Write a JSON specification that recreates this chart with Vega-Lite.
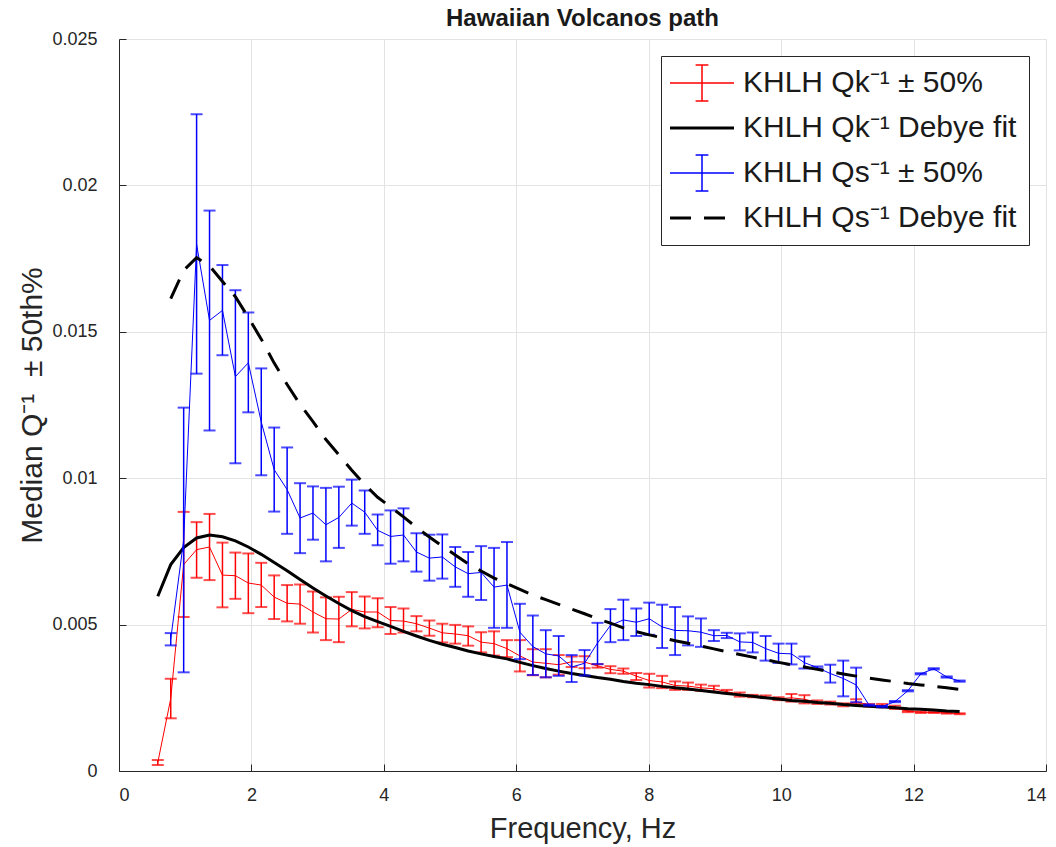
{
  "$schema": "https://vega.github.io/schema/vega-lite/v6.json",
  "width": 927,
  "height": 732,
  "autosize": "none",
  "padding": {"left": 119, "top": 39, "right": 10, "bottom": 76},
  "background": "white",
  "title": {"text": "Hawaiian Volcanos path", "font": "Liberation Sans", "fontSize": 24, "fontWeight": "bold", "color": "#1a1a1a", "offset": -1, "anchor": "middle"},
  "config": {
    "view": {"stroke": null},
    "axis": {"domainColor": "#262626", "tickColor": "#262626", "labelColor": "#262626", "titleColor": "#262626", "gridColor": "#e3e3e3", "labelFont": "Liberation Sans", "titleFont": "Liberation Sans", "labelFontSize": 18, "titleFontSize": 29, "titleFontWeight": "normal", "tickSize": -7, "domainWidth": 1}
  },
  "datasets": {
    "err": [
      {"s":"qk","f":0.5859,"q":0.00029,"lo":0.000205,"hi":0.000376},
      {"s":"qk","f":0.7813,"q":0.00247,"lo":0.0018,"hi":0.00315},
      {"s":"qk","f":0.9766,"q":0.00705,"lo":0.00526,"hi":0.00885},
      {"s":"qk","f":1.1719,"q":0.00756,"lo":0.0066,"hi":0.0085},
      {"s":"qk","f":1.3672,"q":0.00765,"lo":0.00652,"hi":0.00878},
      {"s":"qk","f":1.5625,"q":0.00669,"lo":0.00559,"hi":0.0078},
      {"s":"qk","f":1.7578,"q":0.00667,"lo":0.00588,"hi":0.00746},
      {"s":"qk","f":1.9531,"q":0.00642,"lo":0.00539,"hi":0.00743},
      {"s":"qk","f":2.1484,"q":0.00635,"lo":0.0056,"hi":0.00711},
      {"s":"qk","f":2.3438,"q":0.00594,"lo":0.00519,"hi":0.00668},
      {"s":"qk","f":2.5391,"q":0.00573,"lo":0.00511,"hi":0.00635},
      {"s":"qk","f":2.7344,"q":0.0057,"lo":0.00503,"hi":0.00637},
      {"s":"qk","f":2.9297,"q":0.00543,"lo":0.00473,"hi":0.00613},
      {"s":"qk","f":3.125,"q":0.0052,"lo":0.00447,"hi":0.00593},
      {"s":"qk","f":3.3203,"q":0.00519,"lo":0.0044,"hi":0.00595},
      {"s":"qk","f":3.5156,"q":0.00552,"lo":0.00494,"hi":0.00611},
      {"s":"qk","f":3.7109,"q":0.00543,"lo":0.00487,"hi":0.00596},
      {"s":"qk","f":3.9063,"q":0.00543,"lo":0.00491,"hi":0.0059},
      {"s":"qk","f":4.1016,"q":0.00514,"lo":0.00468,"hi":0.0056},
      {"s":"qk","f":4.2969,"q":0.00512,"lo":0.00473,"hi":0.00555},
      {"s":"qk","f":4.4922,"q":0.00503,"lo":0.00477,"hi":0.00529},
      {"s":"qk","f":4.6875,"q":0.00488,"lo":0.00462,"hi":0.00514},
      {"s":"qk","f":4.8828,"q":0.00472,"lo":0.00439,"hi":0.00503},
      {"s":"qk","f":5.0781,"q":0.00468,"lo":0.00435,"hi":0.00499},
      {"s":"qk","f":5.2734,"q":0.00462,"lo":0.00428,"hi":0.00494},
      {"s":"qk","f":5.4688,"q":0.0044,"lo":0.00405,"hi":0.00474},
      {"s":"qk","f":5.6641,"q":0.00435,"lo":0.00394,"hi":0.00477},
      {"s":"qk","f":5.8594,"q":0.00418,"lo":0.00389,"hi":0.00447},
      {"s":"qk","f":6.0547,"q":0.00393,"lo":0.0034,"hi":0.00447},
      {"s":"qk","f":6.25,"q":0.00372,"lo":0.00327,"hi":0.00416},
      {"s":"qk","f":6.4453,"q":0.00368,"lo":0.0032,"hi":0.00416},
      {"s":"qk","f":6.6406,"q":0.00363,"lo":0.00329,"hi":0.00396},
      {"s":"qk","f":6.8359,"q":0.00373,"lo":0.00355,"hi":0.00391},
      {"s":"qk","f":7.0313,"q":0.00372,"lo":0.00351,"hi":0.00392},
      {"s":"qk","f":7.2266,"q":0.00359,"lo":0.00353,"hi":0.00365},
      {"s":"qk","f":7.4219,"q":0.00347,"lo":0.00334,"hi":0.00358},
      {"s":"qk","f":7.6172,"q":0.00341,"lo":0.00332,"hi":0.0035},
      {"s":"qk","f":7.8125,"q":0.00324,"lo":0.00311,"hi":0.00335},
      {"s":"qk","f":8.0078,"q":0.00309,"lo":0.00285,"hi":0.00332},
      {"s":"qk","f":8.2031,"q":0.00304,"lo":0.00283,"hi":0.00325},
      {"s":"qk","f":8.3984,"q":0.00292,"lo":0.00277,"hi":0.00306},
      {"s":"qk","f":8.5938,"q":0.0029,"lo":0.00277,"hi":0.00302},
      {"s":"qk","f":8.7891,"q":0.00284,"lo":0.00274,"hi":0.00295},
      {"s":"qk","f":8.9844,"q":0.00281,"lo":0.00271,"hi":0.00291},
      {"s":"qk","f":9.1797,"q":0.00271,"lo":0.00266,"hi":0.00277},
      {"s":"qk","f":9.375,"q":0.00261,"lo":0.00254,"hi":0.00268},
      {"s":"qk","f":9.5703,"q":0.00256,"lo":0.00252,"hi":0.0026},
      {"s":"qk","f":9.7656,"q":0.00253,"lo":0.00249,"hi":0.00258},
      {"s":"qk","f":9.9609,"q":0.00247,"lo":0.00242,"hi":0.00252},
      {"s":"qk","f":10.1563,"q":0.0025,"lo":0.00237,"hi":0.00263},
      {"s":"qk","f":10.3516,"q":0.00245,"lo":0.00231,"hi":0.00259},
      {"s":"qk","f":10.5469,"q":0.00235,"lo":0.00229,"hi":0.00241},
      {"s":"qk","f":10.7422,"q":0.00232,"lo":0.00227,"hi":0.00237},
      {"s":"qk","f":10.9375,"q":0.00226,"lo":0.00221,"hi":0.00231},
      {"s":"qk","f":11.1328,"q":0.00237,"lo":0.00229,"hi":0.00245},
      {"s":"qk","f":11.3281,"q":0.00225,"lo":0.0022,"hi":0.00229},
      {"s":"qk","f":11.5234,"q":0.00223,"lo":0.00218,"hi":0.00229},
      {"s":"qk","f":11.7188,"q":0.00218,"lo":0.00212,"hi":0.00223},
      {"s":"qk","f":11.9141,"q":0.00204,"lo":0.00201,"hi":0.00206},
      {"s":"qk","f":12.1094,"q":0.00201,"lo":0.00198,"hi":0.00203},
      {"s":"qk","f":12.3047,"q":0.002,"lo":0.00198,"hi":0.00202},
      {"s":"qk","f":12.5,"q":0.00198,"lo":0.00196,"hi":0.002},
      {"s":"qk","f":12.6953,"q":0.00196,"lo":0.00194,"hi":0.00197},
      {"s":"qs","f":0.7813,"q":0.0045,"lo":0.00429,"hi":0.00471},
      {"s":"qs","f":0.9766,"q":0.00789,"lo":0.00337,"hi":0.01241},
      {"s":"qs","f":1.1719,"q":0.01799,"lo":0.01357,"hi":0.02243},
      {"s":"qs","f":1.3672,"q":0.01539,"lo":0.01163,"hi":0.01914},
      {"s":"qs","f":1.5625,"q":0.01573,"lo":0.0142,"hi":0.01728},
      {"s":"qs","f":1.7578,"q":0.01347,"lo":0.01051,"hi":0.01642},
      {"s":"qs","f":1.9531,"q":0.01394,"lo":0.01225,"hi":0.01566},
      {"s":"qs","f":2.1484,"q":0.01192,"lo":0.0101,"hi":0.01375},
      {"s":"qs","f":2.3438,"q":0.01029,"lo":0.00886,"hi":0.01173},
      {"s":"qs","f":2.5391,"q":0.00961,"lo":0.0081,"hi":0.01105},
      {"s":"qs","f":2.7344,"q":0.00864,"lo":0.00744,"hi":0.00983},
      {"s":"qs","f":2.9297,"q":0.00881,"lo":0.0079,"hi":0.00972},
      {"s":"qs","f":3.125,"q":0.00841,"lo":0.00716,"hi":0.00967},
      {"s":"qs","f":3.3203,"q":0.00866,"lo":0.00762,"hi":0.00971},
      {"s":"qs","f":3.5156,"q":0.00915,"lo":0.00838,"hi":0.00995},
      {"s":"qs","f":3.7109,"q":0.00884,"lo":0.0081,"hi":0.00958},
      {"s":"qs","f":3.9063,"q":0.00822,"lo":0.00771,"hi":0.00876},
      {"s":"qs","f":4.1016,"q":0.00801,"lo":0.00708,"hi":0.0089},
      {"s":"qs","f":4.2969,"q":0.00806,"lo":0.00716,"hi":0.00897},
      {"s":"qs","f":4.4922,"q":0.00748,"lo":0.00681,"hi":0.00812},
      {"s":"qs","f":4.6875,"q":0.00727,"lo":0.0065,"hi":0.00807},
      {"s":"qs","f":4.8828,"q":0.00731,"lo":0.00657,"hi":0.00808},
      {"s":"qs","f":5.0781,"q":0.00697,"lo":0.00629,"hi":0.00765},
      {"s":"qs","f":5.2734,"q":0.00674,"lo":0.00595,"hi":0.00748},
      {"s":"qs","f":5.4688,"q":0.00678,"lo":0.00584,"hi":0.00768},
      {"s":"qs","f":5.6641,"q":0.00628,"lo":0.00489,"hi":0.00762},
      {"s":"qs","f":5.8594,"q":0.00635,"lo":0.00489,"hi":0.00782},
      {"s":"qs","f":6.0547,"q":0.00474,"lo":0.00382,"hi":0.00571},
      {"s":"qs","f":6.25,"q":0.00425,"lo":0.00328,"hi":0.00531},
      {"s":"qs","f":6.4453,"q":0.004,"lo":0.0032,"hi":0.00481},
      {"s":"qs","f":6.6406,"q":0.00393,"lo":0.00325,"hi":0.00461},
      {"s":"qs","f":6.8359,"q":0.00355,"lo":0.00304,"hi":0.00396},
      {"s":"qs","f":7.0313,"q":0.00368,"lo":0.00326,"hi":0.00413},
      {"s":"qs","f":7.2266,"q":0.00437,"lo":0.00365,"hi":0.00506},
      {"s":"qs","f":7.4219,"q":0.00497,"lo":0.0044,"hi":0.00553},
      {"s":"qs","f":7.6172,"q":0.00516,"lo":0.00447,"hi":0.00585},
      {"s":"qs","f":7.8125,"q":0.00508,"lo":0.00461,"hi":0.00555},
      {"s":"qs","f":8.0078,"q":0.0052,"lo":0.00465,"hi":0.00575},
      {"s":"qs","f":8.2031,"q":0.00492,"lo":0.0042,"hi":0.00568},
      {"s":"qs","f":8.3984,"q":0.0048,"lo":0.00396,"hi":0.0056},
      {"s":"qs","f":8.5938,"q":0.00479,"lo":0.00429,"hi":0.00528},
      {"s":"qs","f":8.7891,"q":0.00474,"lo":0.00424,"hi":0.00521},
      {"s":"qs","f":8.9844,"q":0.00462,"lo":0.00444,"hi":0.00481},
      {"s":"qs","f":9.1797,"q":0.00463,"lo":0.00454,"hi":0.00472},
      {"s":"qs","f":9.375,"q":0.00441,"lo":0.00412,"hi":0.0047},
      {"s":"qs","f":9.5703,"q":0.00439,"lo":0.00405,"hi":0.00473},
      {"s":"qs","f":9.7656,"q":0.00418,"lo":0.00377,"hi":0.00461},
      {"s":"qs","f":9.9609,"q":0.00402,"lo":0.00369,"hi":0.00435},
      {"s":"qs","f":10.1563,"q":0.004,"lo":0.00364,"hi":0.00435},
      {"s":"qs","f":10.3516,"q":0.0037,"lo":0.0035,"hi":0.00391},
      {"s":"qs","f":10.5469,"q":0.00353,"lo":0.0035,"hi":0.00357},
      {"s":"qs","f":10.7422,"q":0.00333,"lo":0.00302,"hi":0.00363},
      {"s":"qs","f":10.9375,"q":0.00316,"lo":0.00255,"hi":0.00377},
      {"s":"qs","f":11.1328,"q":0.00294,"lo":0.00235,"hi":0.00353},
      {"s":"qs","f":11.3281,"q":0.00225,"lo":0.00223,"hi":0.00227},
      {"s":"qs","f":11.5234,"q":0.0022,"lo":0.00218,"hi":0.00222},
      {"s":"qs","f":11.7188,"q":0.00237,"lo":0.00235,"hi":0.00239},
      {"s":"qs","f":11.9141,"q":0.00274,"lo":0.00272,"hi":0.00276},
      {"s":"qs","f":12.1094,"q":0.00332,"lo":0.0033,"hi":0.00334},
      {"s":"qs","f":12.3047,"q":0.00349,"lo":0.00347,"hi":0.00351},
      {"s":"qs","f":12.5,"q":0.00321,"lo":0.00319,"hi":0.00323},
      {"s":"qs","f":12.6953,"q":0.00307,"lo":0.00305,"hi":0.00309}
    ],
    "fit": [
      {"s":"qkfit","f":0.5859,"q":0.00597},{"s":"qkfit","f":0.7813,"q":0.00705},{"s":"qkfit","f":0.9766,"q":0.00763},{"s":"qkfit","f":1.1719,"q":0.00796},
      {"s":"qkfit","f":1.3672,"q":0.00806},{"s":"qkfit","f":1.5625,"q":0.008},{"s":"qkfit","f":1.7578,"q":0.00786},{"s":"qkfit","f":1.9531,"q":0.00765},
      {"s":"qkfit","f":2.1484,"q":0.0074},{"s":"qkfit","f":2.3438,"q":0.00712},{"s":"qkfit","f":2.5391,"q":0.00684},{"s":"qkfit","f":2.7344,"q":0.00654},
      {"s":"qkfit","f":2.9297,"q":0.00625},{"s":"qkfit","f":3.125,"q":0.00598},{"s":"qkfit","f":3.3203,"q":0.00572},{"s":"qkfit","f":3.5156,"q":0.00548},
      {"s":"qkfit","f":3.7109,"q":0.00527},{"s":"qkfit","f":3.9063,"q":0.0051},{"s":"qkfit","f":4.1016,"q":0.00494},{"s":"qkfit","f":4.2969,"q":0.00477},
      {"s":"qkfit","f":4.4922,"q":0.00461},{"s":"qkfit","f":4.6875,"q":0.00446},{"s":"qkfit","f":4.8828,"q":0.00433},{"s":"qkfit","f":5.0781,"q":0.00422},
      {"s":"qkfit","f":5.2734,"q":0.0041},{"s":"qkfit","f":5.4688,"q":0.004},{"s":"qkfit","f":5.6641,"q":0.00391},{"s":"qkfit","f":5.8594,"q":0.00383},
      {"s":"qkfit","f":6.0547,"q":0.00371},{"s":"qkfit","f":6.25,"q":0.0036},{"s":"qkfit","f":6.4453,"q":0.0035},{"s":"qkfit","f":6.6406,"q":0.00341},
      {"s":"qkfit","f":6.8359,"q":0.00333},{"s":"qkfit","f":7.0313,"q":0.00326},{"s":"qkfit","f":7.2266,"q":0.00319},{"s":"qkfit","f":7.4219,"q":0.00313},
      {"s":"qkfit","f":7.6172,"q":0.00306},{"s":"qkfit","f":7.8125,"q":0.003},{"s":"qkfit","f":8.0078,"q":0.00295},{"s":"qkfit","f":8.2031,"q":0.00289},
      {"s":"qkfit","f":8.3984,"q":0.00284},{"s":"qkfit","f":8.5938,"q":0.0028},{"s":"qkfit","f":8.7891,"q":0.00275},{"s":"qkfit","f":8.9844,"q":0.0027},
      {"s":"qkfit","f":9.1797,"q":0.00265},{"s":"qkfit","f":9.375,"q":0.0026},{"s":"qkfit","f":9.5703,"q":0.00255},{"s":"qkfit","f":9.7656,"q":0.0025},
      {"s":"qkfit","f":9.9609,"q":0.00246},{"s":"qkfit","f":10.1563,"q":0.00241},{"s":"qkfit","f":10.3516,"q":0.00238},{"s":"qkfit","f":10.5469,"q":0.00234},
      {"s":"qkfit","f":10.7422,"q":0.00231},{"s":"qkfit","f":10.9375,"q":0.00227},{"s":"qkfit","f":11.1328,"q":0.00224},{"s":"qkfit","f":11.3281,"q":0.00221},
      {"s":"qkfit","f":11.5234,"q":0.00219},{"s":"qkfit","f":11.7188,"q":0.00216},{"s":"qkfit","f":11.9141,"q":0.00213},{"s":"qkfit","f":12.1094,"q":0.00211},
      {"s":"qkfit","f":12.3047,"q":0.00208},{"s":"qkfit","f":12.5,"q":0.00205},{"s":"qkfit","f":12.6953,"q":0.00203},
      {"s":"qsfit","f":0.7813,"q":0.01613},{"s":"qsfit","f":0.9766,"q":0.0171},{"s":"qsfit","f":1.1719,"q":0.01753},{"s":"qsfit","f":1.3672,"q":0.01725},
      {"s":"qsfit","f":1.5625,"q":0.01672},{"s":"qsfit","f":1.7578,"q":0.0162},{"s":"qsfit","f":1.9531,"q":0.01549},{"s":"qsfit","f":2.1484,"q":0.01475},
      {"s":"qsfit","f":2.3438,"q":0.01393},{"s":"qsfit","f":2.5391,"q":0.0132},{"s":"qsfit","f":2.7344,"q":0.01252},{"s":"qsfit","f":2.9297,"q":0.01193},
      {"s":"qsfit","f":3.125,"q":0.01132},{"s":"qsfit","f":3.3203,"q":0.0108},{"s":"qsfit","f":3.5156,"q":0.01027},{"s":"qsfit","f":3.7109,"q":0.00978},
      {"s":"qsfit","f":3.9063,"q":0.00935},{"s":"qsfit","f":4.1016,"q":0.00902},{"s":"qsfit","f":4.2969,"q":0.00868},{"s":"qsfit","f":4.4922,"q":0.00832},
      {"s":"qsfit","f":4.6875,"q":0.00799},{"s":"qsfit","f":4.8828,"q":0.00768},{"s":"qsfit","f":5.0781,"q":0.00738},{"s":"qsfit","f":5.2734,"q":0.00708},
      {"s":"qsfit","f":5.4688,"q":0.00683},{"s":"qsfit","f":5.6641,"q":0.00659},{"s":"qsfit","f":5.8594,"q":0.0064},{"s":"qsfit","f":6.0547,"q":0.0062},
      {"s":"qsfit","f":6.25,"q":0.00601},{"s":"qsfit","f":6.4453,"q":0.00585},{"s":"qsfit","f":6.6406,"q":0.00569},{"s":"qsfit","f":6.8359,"q":0.00553},
      {"s":"qsfit","f":7.0313,"q":0.00537},{"s":"qsfit","f":7.2266,"q":0.0052},{"s":"qsfit","f":7.4219,"q":0.00505},{"s":"qsfit","f":7.6172,"q":0.00489},
      {"s":"qsfit","f":7.8125,"q":0.00476},{"s":"qsfit","f":8.0078,"q":0.00465},{"s":"qsfit","f":8.2031,"q":0.00455},{"s":"qsfit","f":8.3984,"q":0.00445},
      {"s":"qsfit","f":8.5938,"q":0.00436},{"s":"qsfit","f":8.7891,"q":0.00427},{"s":"qsfit","f":8.9844,"q":0.00417},{"s":"qsfit","f":9.1797,"q":0.00407},
      {"s":"qsfit","f":9.375,"q":0.00398},{"s":"qsfit","f":9.5703,"q":0.00389},{"s":"qsfit","f":9.7656,"q":0.0038},{"s":"qsfit","f":9.9609,"q":0.00371},
      {"s":"qsfit","f":10.1563,"q":0.00363},{"s":"qsfit","f":10.3516,"q":0.00355},{"s":"qsfit","f":10.5469,"q":0.00347},{"s":"qsfit","f":10.7422,"q":0.00339},
      {"s":"qsfit","f":10.9375,"q":0.00331},{"s":"qsfit","f":11.1328,"q":0.00324},{"s":"qsfit","f":11.3281,"q":0.00317},{"s":"qsfit","f":11.5234,"q":0.00311},
      {"s":"qsfit","f":11.7188,"q":0.00305},{"s":"qsfit","f":11.9141,"q":0.00299},{"s":"qsfit","f":12.1094,"q":0.00294},{"s":"qsfit","f":12.3047,"q":0.00289},
      {"s":"qsfit","f":12.5,"q":0.00284},{"s":"qsfit","f":12.6953,"q":0.00279}
    ]
  },
  "encoding": {
    "x": {"field": "f", "type": "quantitative", "scale": {"domain": [0, 14], "nice": false},
          "axis": {"title": "Frequency, Hz", "tickCount": 7, "grid": true, "labelPadding": 22, "titlePadding": 10}},
    "color": {"field": "s", "type": "nominal",
      "scale": {"domain": ["qk", "qkfit", "qs", "qsfit"], "range": ["#ff0000", "#000000", "#0000ff", "#000000"]},
      "legend": {
        "title": null, "orient": "top-right", "offset": 17, "padding": 12,
        "strokeColor": "#262626", "fillColor": "white",
        "labelFont": "Liberation Sans", "labelFontSize": 30, "labelColor": "#1a1a1a", "labelLimit": 500,
        "symbolSize": 4096, "symbolType": "stroke", "symbolOffset": 14, "labelOffset": 26, "rowPadding": 9,
        "labelExpr": "datum.value == 'qk' ? 'KHLH Qk⁻¹ ± 50%' : datum.value == 'qkfit' ? 'KHLH Qk⁻¹ Debye fit' : datum.value == 'qs' ? 'KHLH Qs⁻¹ ± 50%' : 'KHLH Qs⁻¹ Debye fit'",
        "encode": {
          "symbols": {
            "update": {
              "shape": {"signal": "(datum.value == 'qk' || datum.value == 'qs') ? 'M-1,0H1M0,-0.56V0.56M-0.2,-0.56H0.2M-0.2,0.56H0.2' : 'stroke'"},
              "strokeWidth": {"signal": "(datum.value == 'qk' || datum.value == 'qs') ? 1.5 : 3"},
              "strokeDash": {"signal": "datum.value == 'qsfit' ? [21, 13] : [1, 0]"}
            }
          }
        }
      }
    }
  },
  "layer": [
    {
      "data": {"name": "err"},
      "transform": [{"filter": "datum.s == 'qk'"}],
      "layer": [
        {"mark": {"type": "rule", "strokeWidth": 1.5},
         "encoding": {"y": {"field": "lo", "type": "quantitative", "title": "Median Q⁻¹\u00a0\u00a0± 50th%", "scale": {"domain": [0, 0.025], "nice": false},
                            "axis": {"tickCount": 5, "format": "~g", "grid": true, "labelPadding": 29, "titlePadding": 4, "titleFontSize": 30}},
                      "y2": {"field": "hi"}}},
        {"mark": {"type": "tick", "orient": "horizontal", "size": 12, "thickness": 2},
         "encoding": {"y": {"field": "lo", "type": "quantitative", "title": "Median Q⁻¹\u00a0\u00a0± 50th%"}}},
        {"mark": {"type": "tick", "orient": "horizontal", "size": 12, "thickness": 2},
         "encoding": {"y": {"field": "hi", "type": "quantitative", "title": "Median Q⁻¹\u00a0\u00a0± 50th%"}}},
        {"mark": {"type": "line", "strokeWidth": 1},
         "encoding": {"y": {"field": "q", "type": "quantitative", "title": "Median Q⁻¹\u00a0\u00a0± 50th%"}}}
      ]
    },
    {
      "data": {"name": "fit"},
      "transform": [{"filter": "datum.s == 'qkfit'"}],
      "mark": {"type": "line", "strokeWidth": 3},
      "encoding": {"y": {"field": "q", "type": "quantitative", "title": "Median Q⁻¹\u00a0\u00a0± 50th%"}}
    },
    {
      "data": {"name": "err"},
      "transform": [{"filter": "datum.s == 'qs'"}],
      "layer": [
        {"mark": {"type": "rule", "strokeWidth": 1.5},
         "encoding": {"y": {"field": "lo", "type": "quantitative", "title": "Median Q⁻¹\u00a0\u00a0± 50th%"}, "y2": {"field": "hi"}}},
        {"mark": {"type": "tick", "orient": "horizontal", "size": 12, "thickness": 2},
         "encoding": {"y": {"field": "lo", "type": "quantitative", "title": "Median Q⁻¹\u00a0\u00a0± 50th%"}}},
        {"mark": {"type": "tick", "orient": "horizontal", "size": 12, "thickness": 2},
         "encoding": {"y": {"field": "hi", "type": "quantitative", "title": "Median Q⁻¹\u00a0\u00a0± 50th%"}}},
        {"mark": {"type": "line", "strokeWidth": 1},
         "encoding": {"y": {"field": "q", "type": "quantitative", "title": "Median Q⁻¹\u00a0\u00a0± 50th%"}}}
      ]
    },
    {
      "data": {"name": "fit"},
      "transform": [{"filter": "datum.s == 'qsfit'"}],
      "mark": {"type": "line", "strokeWidth": 3, "strokeDash": [21, 13]},
      "encoding": {"y": {"field": "q", "type": "quantitative", "title": "Median Q⁻¹\u00a0\u00a0± 50th%"}}
    }
  ]
}
